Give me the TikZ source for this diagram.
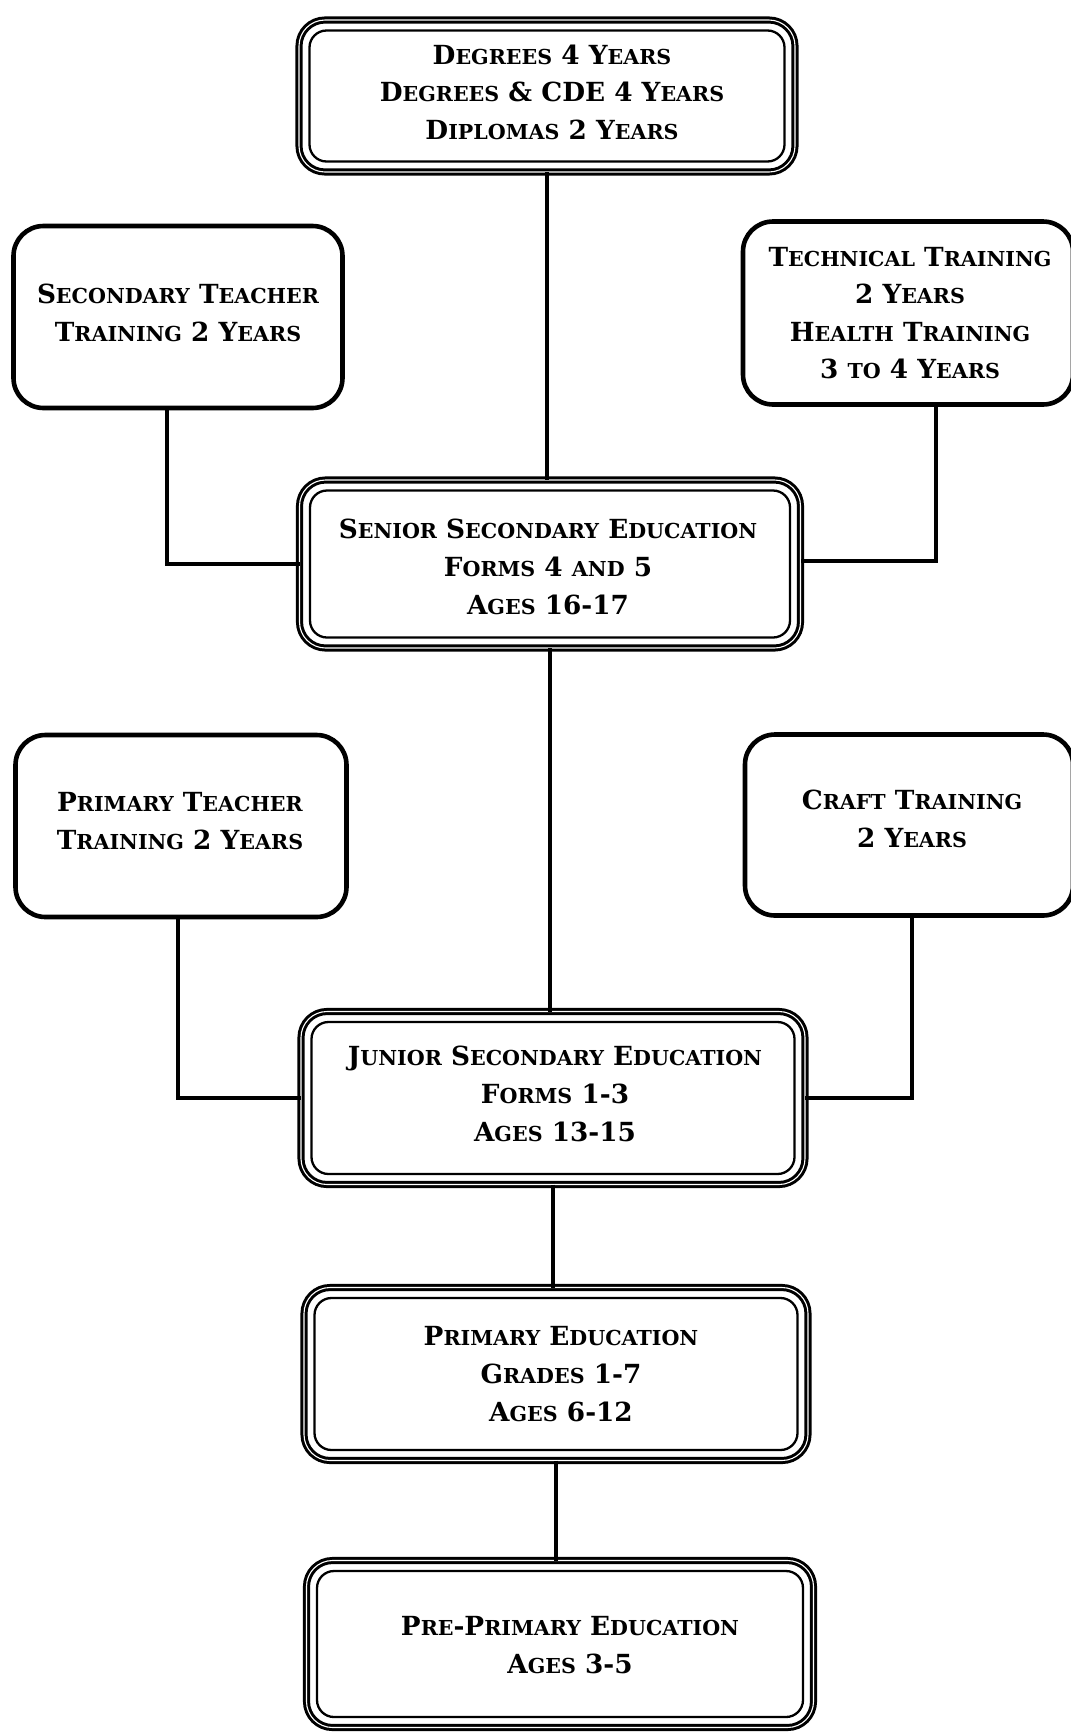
\documentclass[tikz,border=0pt]{standalone}
\usepackage{fontspec}
\setmainfont{DejaVu Serif}
\newcommand\smc[1]{{\fontsize{20.6}{20.6}\selectfont #1}}
\tikzset{
  txt/.style={inner sep=0pt, align=center, font=\bfseries\fontsize{26.3}{37.6}\selectfont},
  dbox/.style={draw, line width=3pt, double=white, double distance=1.1pt,
    rounded corners=26pt, outer sep=0pt, inner sep=0pt},
  sbox/.style={draw, line width=4.6pt, rounded corners=30pt, outer sep=0pt,
    inner sep=0pt},
  innerline/.style={line width=2.3pt, rounded corners=17pt},
  conn/.style={line width=4.6pt}
}
\begin{document}
\begin{tikzpicture}[x=1pt,y=-1pt]
\useasboundingbox[fill=white] (0,0) rectangle (1071,1733);

% double-bordered main boxes
\node[dbox, minimum width=496pt, minimum height=152pt] (deg) at (547,96) {};
\node[dbox, minimum width=501pt, minimum height=168pt] (sen) at (550,564) {};
\node[dbox, minimum width=504pt, minimum height=173pt] (jun) at (553,1098) {};
\node[dbox, minimum width=504pt, minimum height=173pt] (pri) at (556,1374) {};
\node[dbox, minimum width=507pt, minimum height=167pt] (pre) at (560,1644) {};

\foreach \n in {deg,sen,jun,pri,pre}
  \draw[innerline] ([shift={(10.5,10.5)}]\n.north west) rectangle ([shift={(-10.5,-10.5)}]\n.south east);

% single-bordered side boxes
\node[sbox, minimum width=329pt, minimum height=182pt] (stt) at (178,317) {};
\node[sbox, minimum width=330pt, minimum height=183pt] (tech) at (908,313) {};
\node[sbox, minimum width=331pt, minimum height=182pt] (ptt) at (181,826) {};
\node[sbox, minimum width=328pt, minimum height=181pt] (craft) at (909,825) {};

% texts
\node[txt] (degT) at ([shift={(5pt,4pt)}]deg.center)
  {D\smc{EGREES} 4 Y\smc{EARS}\\D\smc{EGREES} \& CDE 4 Y\smc{EARS}\\D\smc{IPLOMAS} 2 Y\smc{EARS}};
\node[txt] (senT) at ([shift={(-2pt,-3pt)}]sen.center)
  {S\smc{ENIOR} S\smc{ECONDARY} E\smc{DUCATION}\\F\smc{ORMS} 4 \smc{AND} 5\\A\smc{GES} 16-17};
\node[txt] (junT) at ([shift={(2pt,4pt)}]jun.center)
  {J\smc{UNIOR} S\smc{ECONDARY} E\smc{DUCATION}\\F\smc{ORMS} 1-3\\A\smc{GES} 13-15};
\node[txt] (priT) at ([shift={(5pt,0pt)}]pri.center)
  {P\smc{RIMARY} E\smc{DUCATION}\\G\smc{RADES} 1-7\\A\smc{GES} 6-12};
\node[txt] (preT) at ([shift={(10pt,-1pt)}]pre.center)
  {P\smc{RE}-P\smc{RIMARY} E\smc{DUCATION}\\A\smc{GES} 3-5};
\node[txt] (sttT) at ([shift={(0pt,4pt)}]stt.center)
  {S\smc{ECONDARY} T\smc{EACHER}\\T\smc{RAINING} 2 Y\smc{EARS}};
\node[txt] (techT) at ([shift={(2pt,0pt)}]tech.center)
  {T\smc{ECHNICAL} T\smc{RAINING}\\2 Y\smc{EARS}\\H\smc{EALTH} T\smc{RAINING}\\3 \smc{TO} 4 Y\smc{EARS}};
\node[txt] (pttT) at ([shift={(-1pt,5pt)}]ptt.center)
  {P\smc{RIMARY} T\smc{EACHER}\\T\smc{RAINING} 2 Y\smc{EARS}};
\node[txt] (craftT) at ([shift={(3pt,6pt)}]craft.center)
  {C\smc{RAFT} T\smc{RAINING}\\2 Y\smc{EARS}};

% connectors
\draw[conn] (deg.south) -- (deg.south |- sen.north);
\draw[conn] (sen.south) -- (sen.south |- jun.north);
\draw[conn] (jun.south) -- (jun.south |- pri.north);
\draw[conn] (pri.south) -- (pri.south |- pre.north);
\draw[conn] ([xshift=-11pt]stt.south) |- (sen.west);
\draw[conn] ([xshift=28pt]tech.south) |- ([yshift=3pt]sen.east);
\draw[conn] ([xshift=-3pt]ptt.south) |- (jun.west);
\draw[conn] ([xshift=3pt]craft.south) |- (jun.east);
\end{tikzpicture}
\end{document}
